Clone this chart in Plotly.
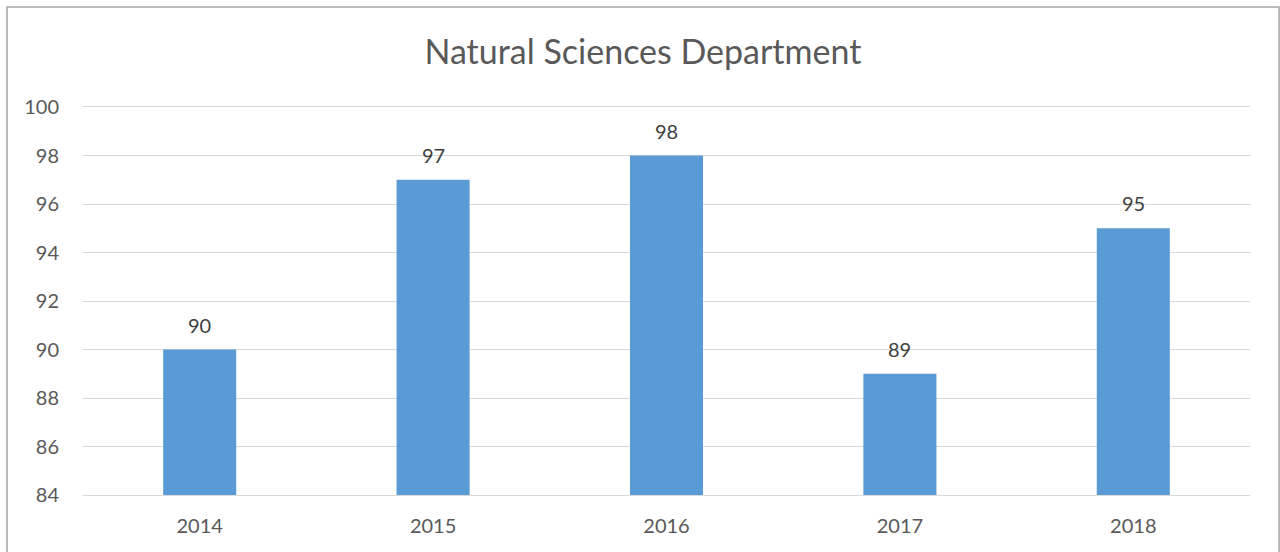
import plotly.graph_objects as go

years = ["2014", "2015", "2016", "2017", "2018"]
scores = [90, 97, 98, 89, 95]
y_ticks = [84, 86, 88, 90, 92, 94, 96, 98, 100]

FONT = "Lato, Carlito, 'Liberation Sans', sans-serif"

fig = go.Figure(
    go.Bar(
        x=years,
        y=scores,
        marker=dict(color="#5B9BD5", line=dict(width=0)),
        cliponaxis=False,
        hoverinfo="x+y",
    )
)

# value labels: positioned by category index + data value
annotations = [
    dict(
        x=i,
        y=val,
        xref="x",
        yref="y",
        text=str(val),
        showarrow=False,
        yshift=25,
        yanchor="middle",
        font=dict(family=FONT, size=20, color="#404040"),
    )
    for i, val in enumerate(scores)
]

fig.update_layout(
    width=1280,
    height=552,
    margin=dict(l=83, r=30, t=107, b=57),
    paper_bgcolor="white",
    plot_bgcolor="white",
    bargap=0.687,
    showlegend=False,
    annotations=annotations,
    title=dict(
        text="Natural Sciences Department",
        x=0.5023,
        xanchor="center",
        xref="container",
        yref="container",
        y=0.906,
        yanchor="middle",
        font=dict(family=FONT, size=34, color="#595959"),
    ),
    font=dict(family=FONT, color="#595959"),
    shapes=[
        dict(
            type="rect",
            xref="paper",
            yref="paper",
            x0=-0.0651,
            x1=1.0249,
            y0=-0.2,
            y1=1.2577,
            line=dict(color="#A6A6A6", width=1.5),
            fillcolor="rgba(0,0,0,0)",
            layer="below",
        )
    ],
)

fig.update_yaxes(
    range=[84, 100],
    tickvals=y_ticks,
    ticktext=[str(t) for t in y_ticks],
    showgrid=True,
    gridcolor="#D9D9D9",
    gridwidth=1.3,
    zeroline=False,
    showline=False,
    ticks="outside",
    ticklen=19,
    tickcolor="rgba(0,0,0,0)",
    tickfont=dict(family=FONT, size=20, color="#595959"),
)
fig.update_xaxes(
    type="category",
    categoryorder="array",
    categoryarray=years,
    showgrid=False,
    showline=True,
    mirror=True,
    linecolor="#D9D9D9",
    linewidth=1.3,
    ticks="outside",
    ticklen=13,
    tickcolor="rgba(0,0,0,0)",
    tickfont=dict(family=FONT, size=20, color="#595959"),
)

fig.write_html(
    "out.html",
    config={"displayModeBar": False},
    post_script="document.body.style.margin='0';document.body.style.overflow='hidden';",
)
